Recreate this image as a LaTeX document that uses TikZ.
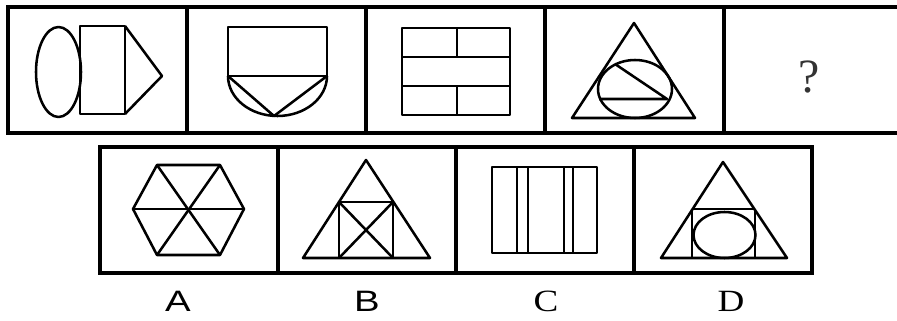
\documentclass[tikz,border=0pt]{standalone}
\usepackage{fontspec}
\newfontfamily\lettersans{Liberation Sans}
\newfontfamily\letterserif{Liberation Serif}
\usetikzlibrary{calc}

\begin{document}
\begin{tikzpicture}[
    x=0.025cm, y=-0.025cm,
    cell/.style={
        rectangle, draw, line width=2.3pt, minimum width=4.475cm,
        minimum height=3.15cm, inner sep=0pt
    },
    figline/.style={line width=1.8pt, line join=round},
    thinline/.style={line width=1.1pt},
]
\clip (0,0) rectangle (897,321);

% question row (top)
\node[cell] (q1) at (97.5, 70) {};
\node[cell] (q2) at (276.5, 70) {};
\node[cell] (q3) at (455.5, 70) {};
\node[cell] (q4) at (634.5, 70) {};
\node[cell] (q5) at (813.5, 70) {};

% answer row (bottom)
\node[cell, minimum width=4.45cm] (ca) at (189, 210) {};
\node[cell, minimum width=4.45cm] (cb) at (367, 210) {};
\node[cell, minimum width=4.45cm] (cc) at (545, 210) {};
\node[cell, minimum width=4.45cm] (cd) at (723, 210) {};

% q1: ellipse, square, triangle
\draw[figline] (58.5, 72) ellipse [x radius=22.5, y radius=45];
\draw[figline] (80, 26) rectangle (125, 114);
\draw[figline] (125, 26) -- (162, 76) -- (125, 114);

% q2: box over half disc with a V
\draw[figline] (228, 76) -- (228, 27) -- (327, 27) -- (327, 76) -- cycle;
\draw[figline] (228, 76) arc [start angle=180, end angle=360, x radius=49.5, y radius=-40];
\draw[figline] (228, 76) -- (274, 116) -- (327, 76);

% q3: bricks
\draw[figline] (402, 28) rectangle (510, 115);
\draw[figline] (402, 57) -- (510, 57);
\draw[figline] (402, 86) -- (510, 86);
\draw[figline] (457, 28) -- (457, 57);
\draw[figline] (457, 86) -- (457, 115);

% q4: triangle with ellipse and two chords
\draw[figline] (634, 23) -- (695, 118) -- (572, 118) -- cycle;
\draw[figline] (635, 89) ellipse [x radius=37, y radius=29];
\draw[figline] (615, 64) -- (667, 99) -- (599, 99);

% q5: unknown
\node[font=\letterserif\fontsize{34}{38}\selectfont, text=black!80] (qm) at (809, 77) {?};

% A: hexagon with diagonals
\draw[figline] (157, 165) -- (220, 165) -- (244, 209) -- (220, 255)
    -- (157, 255) -- (133, 209) -- cycle;
\draw[figline] (157, 165) -- (220, 255);
\draw[figline] (220, 165) -- (157, 255);
\draw[figline] (133, 209) -- (244, 209);

% B: triangle with crossed square
\draw[figline] (366, 160) -- (430, 258) -- (303, 258) -- cycle;
\draw[figline] (339, 202) rectangle (393, 258);
\draw[figline] (339, 202) -- (393, 258);
\draw[figline] (393, 202) -- (339, 258);

% C: box with four bars
\draw[figline] (492, 167) rectangle (597, 253);
\draw[figline] (517, 167) -- (517, 253);
\draw[thinline] (528, 167) -- (528, 253);
\draw[figline] (564, 167) -- (564, 253);
\draw[thinline] (573, 167) -- (573, 253);

% D: triangle with square and ellipse
\draw[figline] (723, 162) -- (787, 258) -- (661, 258) -- cycle;
\draw[figline] (692, 209) -- (755, 209);
\draw[thinline] (692, 209) -- (692, 258);
\draw[thinline] (755, 209) -- (755, 258);
\draw[figline] (724.5, 235) ellipse [x radius=31, y radius=23];

% answer letters
\node[font=\lettersans\fontsize{21}{24}\selectfont] (la) at (178, 301) {\scalebox{1.3}[1]{A}};
\node[font=\lettersans\fontsize{21}{24}\selectfont] (lb) at (367, 301) {\scalebox{1.3}[1]{B}};
\node[font=\letterserif\fontsize{22}{25}\selectfont] (lc) at (546, 301) {\scalebox{1.2}[1]{C}};
\node[font=\letterserif\fontsize{22}{25}\selectfont] (ld) at (731, 301) {\scalebox{1.2}[1]{D}};

\end{tikzpicture}
\end{document}
